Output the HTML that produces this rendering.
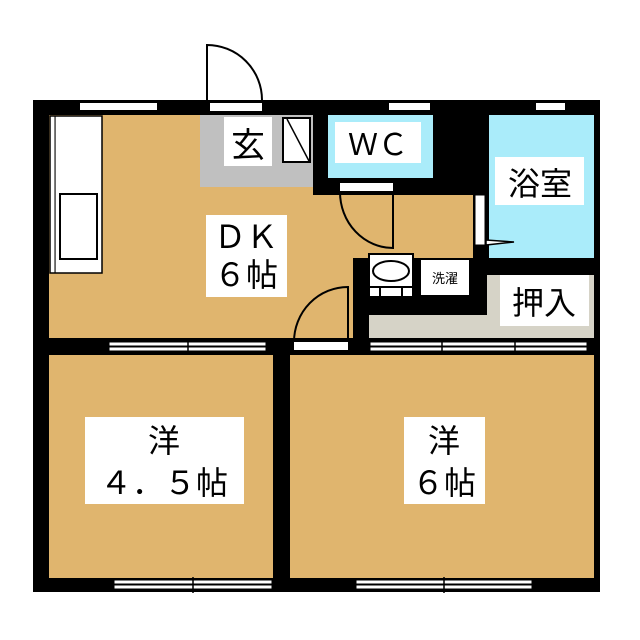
<!DOCTYPE html>
<html><head><meta charset="utf-8"><style>
html,body{margin:0;padding:0;background:#fff;width:640px;height:640px;overflow:hidden}
text{font-family:"Liberation Sans","Noto Sans CJK JP",sans-serif;fill:#000}
</style></head><body>
<svg width="640" height="640" viewBox="0 0 640 640" xmlns="http://www.w3.org/2000/svg">
<!-- entry door -->
<path d="M207 100 L207 45 A55 55 0 0 1 262 100" fill="none" stroke="#000" stroke-width="2"/>
<!-- outer black -->
<rect x="33" y="100" width="567" height="492" fill="#000"/>
<!-- DK floor -->
<rect x="49" y="115" width="305" height="223" fill="#e0b56e"/>
<rect x="313" y="195" width="160" height="63" fill="#e0b56e"/>
<!-- kitchen counter -->
<rect x="50" y="116" width="52" height="157" fill="#fff" stroke="#000" stroke-width="1.5"/>
<rect x="55" y="116" width="0.1" height="157" stroke="#000" stroke-width="1"/>
<rect x="60" y="194" width="37" height="65" fill="#fff" stroke="#000" stroke-width="2"/>
<!-- genkan -->
<rect x="200" y="115" width="113" height="72" fill="#c0c0c0"/>
<rect x="224" y="117" width="48" height="49" fill="#fff"/>
<text x="248" y="157" font-size="34" text-anchor="middle">玄</text>
<rect x="283" y="118" width="27" height="44" fill="#fff" stroke="#000" stroke-width="2"/>
<line x1="287" y1="119" x2="309" y2="161" stroke="#000" stroke-width="1.5"/>
<!-- WC -->
<rect x="313" y="115" width="160" height="80" fill="#000"/>
<rect x="328" y="115" width="105" height="63" fill="#aaecfa"/>
<rect x="335" y="122" width="86" height="41" fill="#fff"/>
<text x="378" y="155" font-size="30" text-anchor="middle">ＷＣ</text>
<rect x="340" y="183" width="53" height="8" fill="#fff"/>
<path d="M340 192 A53 56 0 0 0 393 248 L393 192" fill="none" stroke="#000" stroke-width="2"/>
<!-- bath -->
<rect x="489" y="115" width="105" height="143" fill="#aaecfa"/>
<rect x="495" y="157" width="89" height="48" fill="#fff"/>
<text x="540" y="195" font-size="32" text-anchor="middle">浴室</text>
<rect x="475" y="195" width="10" height="50" fill="#fff" stroke="#000" stroke-width="1"/>
<path d="M486 240 L514 242 L486 245 Z" fill="#fff" stroke="#000" stroke-width="1.5"/>
<!-- wash area -->
<rect x="353" y="258" width="134" height="80" fill="#000"/>
<rect x="369" y="254" width="44" height="43" fill="#fff" stroke="#000" stroke-width="2"/>
<ellipse cx="391" cy="271" rx="18" ry="10" fill="#fff" stroke="#000" stroke-width="2"/>
<line x1="369" y1="287" x2="413" y2="287" stroke="#000" stroke-width="2"/>
<line x1="380" y1="287" x2="380" y2="297" stroke="#000" stroke-width="2"/>
<line x1="402" y1="287" x2="402" y2="297" stroke="#000" stroke-width="2"/>
<rect x="420" y="259" width="50" height="37" fill="#fff" stroke="#000" stroke-width="2"/>
<text x="445" y="283" font-size="13" text-anchor="middle">洗濯</text>
<!-- oshiire -->
<rect x="369" y="315" width="225" height="23" fill="#d6d3c7"/>
<rect x="487" y="275" width="107" height="63" fill="#d6d3c7"/>
<rect x="500" y="275" width="89" height="51" fill="#fff"/>
<text x="544" y="314" font-size="32" text-anchor="middle">押入</text>
<!-- DK label and door -->
<rect x="206" y="215" width="81" height="82" fill="#fff"/>
<text x="246" y="248" font-size="32" text-anchor="middle">ＤＫ</text>
<text x="246" y="286" font-size="32" text-anchor="middle">６帖</text>
<rect x="294" y="342" width="54" height="8" fill="#fff"/>
<path d="M348 342 L348 287 A54 55 0 0 0 294 342" fill="none" stroke="#000" stroke-width="2"/>
<!-- top windows -->
<rect x="80" y="103" width="77" height="7" fill="#fff"/>
<rect x="210" y="103" width="52" height="8" fill="#fff"/>
<rect x="389" y="103" width="41" height="7" fill="#fff"/>
<rect x="536" y="103" width="29" height="7" fill="#fff"/>
<!-- middle windows -->
<g fill="#fff" stroke="#000" stroke-width="1">
<rect x="109" y="342" width="157" height="4"/><rect x="109" y="347" width="157" height="4"/>
<rect x="370" y="342" width="217" height="4"/><rect x="370" y="347" width="217" height="4"/>
</g>
<line x1="188" y1="339" x2="188" y2="354" stroke="#000" stroke-width="1.5"/>
<line x1="442" y1="339" x2="442" y2="354" stroke="#000" stroke-width="1.5"/>
<line x1="515" y1="339" x2="515" y2="354" stroke="#000" stroke-width="1.5"/>
<!-- bedrooms -->
<rect x="49" y="355" width="224" height="223" fill="#e0b56e"/>
<rect x="290" y="355" width="304" height="223" fill="#e0b56e"/>
<rect x="85" y="417" width="159" height="87" fill="#fff"/>
<text x="164" y="452" font-size="32" text-anchor="middle">洋</text>
<text x="164" y="494" font-size="32" text-anchor="middle">４．５帖</text>
<rect x="404" y="417" width="81" height="87" fill="#fff"/>
<text x="444" y="452" font-size="32" text-anchor="middle">洋</text>
<text x="444" y="494" font-size="32" text-anchor="middle">６帖</text>
<!-- bottom windows -->
<g fill="#fff" stroke="#000" stroke-width="1">
<rect x="114" y="580" width="158" height="4"/><rect x="114" y="585" width="158" height="4"/>
<rect x="356" y="580" width="176" height="4"/><rect x="356" y="585" width="176" height="4"/>
</g>
<line x1="193" y1="577" x2="193" y2="593" stroke="#000" stroke-width="1.5"/>
<line x1="444" y1="577" x2="444" y2="593" stroke="#000" stroke-width="1.5"/>
</svg>
</body></html>
